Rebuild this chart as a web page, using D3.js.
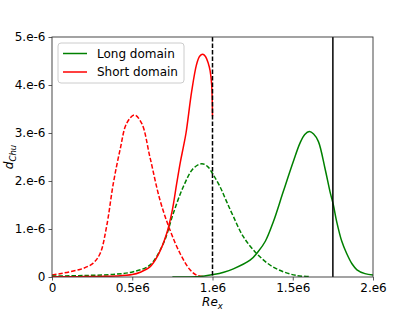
<!DOCTYPE html>
<html>
<head>
<meta charset="utf-8">
<script src="https://cdn.jsdelivr.net/npm/d3@7"></script>
<style>
  body { margin: 0; background: #fff; }
  svg { font-family: "DejaVu Sans", sans-serif; }
</style>
</head>
<body>
<svg id="chart"></svg>
<script>
// tick values and labels
const xTicks = [0, 0.5e6, 1e6, 1.5e6, 2e6];
const xTickLabels = ["0", "0.5e6", "1.e6", "1.5e6", "2.e6"];
const yTicks = [0, 1e-6, 2e-6, 3e-6, 4e-6, 5e-6];
const yTickLabels = ["0", "1.e-6", "2.e-6", "3.e-6", "4.e-6", "5.e-6"];

// vertical markers
const markerDashedX = 1e6;
const markerSolidX = 1.75e6;

// Short domain, solid (x in units of 1e6, y in units of 1e-6)
const shortSolidX = [0, 0.1, 0.2, 0.3, 0.4, 0.5, 0.55, 0.61, 0.66, 0.715, 0.75, 0.777, 0.8, 0.818, 0.835, 0.87, 0.9, 0.92, 0.939, 0.955, 0.974, 0.985, 0.995, 1.0];
const shortSolidY = [0.005, 0.005, 0.008, 0.012, 0.02, 0.05, 0.1, 0.21, 0.45, 0.91, 1.4, 1.95, 2.4, 2.7, 3.0, 3.86, 4.42, 4.6, 4.64, 4.6, 4.45, 4.3, 4.0, 3.35];

// Short domain, dashed
const shortDashX = [0, 0.05, 0.112, 0.195, 0.257, 0.3, 0.34, 0.382, 0.424, 0.465, 0.513, 0.559, 0.61, 0.673, 0.735, 0.798, 0.86, 0.9, 0.95];
const shortDashY = [0.04, 0.07, 0.11, 0.18, 0.29, 0.49, 1.05, 1.95, 2.65, 3.2, 3.375, 3.2, 2.5, 1.6, 0.98, 0.49, 0.15, 0.04, 0.005];

// Long domain, dashed
const longDashX = [0, 0.2, 0.4, 0.507, 0.61, 0.694, 0.756, 0.818, 0.88, 0.933, 0.97, 1.005, 1.047, 1.088, 1.13, 1.192, 1.275, 1.358, 1.441, 1.525, 1.6];
const longDashY = [0.02, 0.03, 0.06, 0.11, 0.25, 0.7, 1.33, 1.88, 2.26, 2.36, 2.3, 2.13, 1.88, 1.57, 1.26, 0.84, 0.49, 0.25, 0.11, 0.03, 0.01];

// Long domain, solid
const longSolidX = [0.75, 0.9, 0.95, 1.005, 1.07, 1.13, 1.234, 1.285, 1.33, 1.379, 1.441, 1.503, 1.545, 1.575, 1.603, 1.63, 1.66, 1.701, 1.732, 1.753, 1.774, 1.805, 1.836, 1.87, 1.9, 1.95, 2.0];
const longSolidY = [0.0, 0.005, 0.02, 0.05, 0.1, 0.17, 0.35, 0.53, 0.75, 1.15, 1.78, 2.4, 2.79, 2.97, 3.03, 2.98, 2.82, 2.26, 1.78, 1.5, 1.15, 0.75, 0.49, 0.27, 0.15, 0.07, 0.04];

const legendNames = ["Long domain", "Short domain"];
const legendColors = ["green", "red"];

const W = 415, H = 312;
const margin = { top: 37, right: 42, bottom: 35, left: 52 };
const width = W - margin.left - margin.right;
const height = H - margin.top - margin.bottom;

const svg = d3.select("#chart").attr("width", W).attr("height", H);
const g = svg.append("g").attr("transform", "translate(" + margin.left + "," + margin.top + ")");

const x = d3.scaleLinear().domain([0, 2e6]).range([0, width]);
const y = d3.scaleLinear().domain([0, 5e-6]).range([height, 0]);

function pts(xs, ys) {
  return xs.map((v, i) => [v * 1e6, ys[i] * 1e-6]);
}

const line = d3.line()
  .x(d => x(d[0]))
  .y(d => y(d[1]))
  .curve(d3.curveCatmullRom.alpha(0.5));

g.append("clipPath").attr("id", "clip")
  .append("rect").attr("width", width).attr("height", height);

const plot = g.append("g").attr("clip-path", "url(#clip)");

const series = [
  { data: pts(shortDashX, shortDashY), color: "red", dash: "4.5,2" },
  { data: pts(longDashX, longDashY), color: "green", dash: "4.5,2" },
  { data: pts(longSolidX, longSolidY), color: "green", dash: null },
  { data: pts(shortSolidX, shortSolidY), color: "red", dash: null }
];

series.forEach(s => {
  plot.append("path")
    .datum(s.data)
    .attr("fill", "none")
    .attr("stroke", s.color)
    .attr("stroke-width", 1.5)
    .attr("stroke-dasharray", s.dash)
    .attr("d", line);
});

// vertical lines
plot.append("line")
  .attr("x1", x(markerDashedX)).attr("x2", x(markerDashedX))
  .attr("y1", 0).attr("y2", height)
  .attr("stroke", "black").attr("stroke-width", 1.5)
  .attr("stroke-dasharray", "4.5,2");
plot.append("line")
  .attr("x1", x(markerSolidX)).attr("x2", x(markerSolidX))
  .attr("y1", 0).attr("y2", height)
  .attr("stroke", "black").attr("stroke-width", 1.5);

// axes
const xAxis = g.append("g")
  .attr("transform", "translate(0," + height + ")")
  .call(d3.axisBottom(x).tickValues(xTicks).tickFormat((d, i) => xTickLabels[i]).tickSizeOuter(0).tickSize(3.5).tickPadding(3));
const yAxis = g.append("g")
  .call(d3.axisLeft(y).tickValues(yTicks).tickFormat((d, i) => yTickLabels[i]).tickSizeOuter(0).tickSize(3.5).tickPadding(3));

[xAxis, yAxis].forEach(a => {
  a.select(".domain").remove();
  a.selectAll("line").attr("stroke", "#333").attr("stroke-width", 0.8);
  a.selectAll("text").attr("font-size", 12).attr("fill", "#000")
    .attr("font-family", "DejaVu Sans, sans-serif");
});

// frame
g.append("rect")
  .attr("width", width).attr("height", height)
  .attr("fill", "none").attr("stroke", "#333").attr("stroke-width", 0.9);

// axis labels
const xl = svg.append("text")
  .attr("x", margin.left + width / 2)
  .attr("y", 306)
  .attr("text-anchor", "middle")
  .attr("font-size", 12)
  .attr("font-style", "italic");
xl.append("tspan").text("Re");
xl.append("tspan").attr("font-size", 8.5).attr("dy", 2.5).text("x");

const yl = svg.append("text")
  .attr("transform", "translate(13," + (margin.top + height / 2) + ") rotate(-90)")
  .attr("text-anchor", "middle")
  .attr("font-size", 12)
  .attr("font-style", "italic");
yl.append("tspan").text("d");
yl.append("tspan").attr("font-size", 8.5).attr("dy", 2.5).text("Chu");

// legend
const lg = g.append("g").attr("transform", "translate(6,6)");
lg.append("rect")
  .attr("width", 126).attr("height", 40)
  .attr("rx", 3)
  .attr("fill", "white").attr("fill-opacity", 0.8)
  .attr("stroke", "#ccc").attr("stroke-width", 1);
legendNames.forEach((name, i) => {
  const yy = 10.5 + i * 18.5;
  lg.append("line")
    .attr("x1", 5).attr("x2", 29)
    .attr("y1", yy).attr("y2", yy)
    .attr("stroke", legendColors[i]).attr("stroke-width", 1.5);
  lg.append("text")
    .attr("x", 39).attr("y", yy + 4.3)
    .attr("font-size", 12)
    .text(name);
});
</script>
</body>
</html>
